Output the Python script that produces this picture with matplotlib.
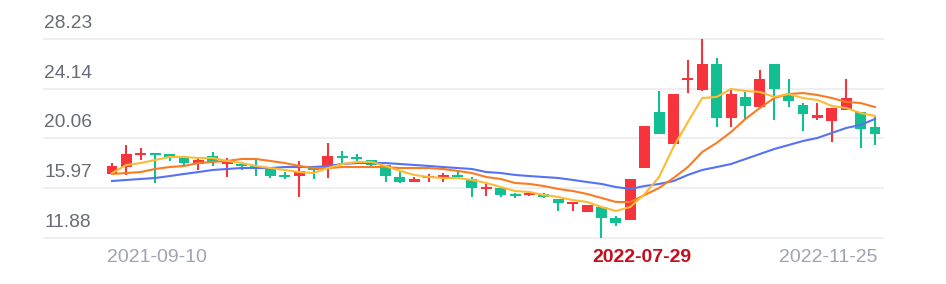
import matplotlib
matplotlib.use('Agg')
import matplotlib.pyplot as plt
import numpy as np

# ---- data (weekly candles) ----
opens = [17.14, 17.71, 18.66, 18.72, 18.78, 18.45, 17.96, 18.62, 18.00, 17.96,
         17.76, 17.55, 17.02, 16.97, 17.63, 17.71, 18.58, 18.41, 18.25, 17.88,
         16.89, 16.48, 16.77, 16.93, 16.97, 16.73, 15.91, 15.99, 15.37, 15.45,
         15.50, 15.08, 14.71, 14.02, 14.43, 13.52, 13.36, 17.63, 22.23, 19.60,
         24.90, 24.04, 26.18, 21.74, 23.47, 22.64, 26.18, 23.63, 22.81, 21.74,
         21.49, 22.40, 22.23, 21.00]
highs = [18.04, 19.52, 19.28, 18.80, 18.80, 18.62, 18.45, 18.95, 18.45, 18.13,
         18.45, 17.58, 17.30, 18.21, 17.66, 19.69, 19.03, 18.78, 18.27, 17.90,
         17.39, 16.89, 17.14, 17.22, 17.30, 16.89, 16.32, 16.01, 15.58, 15.66,
         15.58, 15.10, 14.84, 14.61, 14.45, 13.69, 16.75, 21.10, 23.96, 23.73,
         26.51, 28.23, 26.67, 24.04, 23.88, 25.68, 26.20, 24.95, 22.97, 22.97,
         22.58, 24.95, 22.25, 21.82]
lows = [17.10, 17.06, 18.29, 16.40, 18.21, 17.88, 17.47, 17.80, 16.89, 17.47,
        16.97, 16.81, 16.73, 15.25, 16.73, 16.81, 18.04, 18.13, 17.71, 16.48,
        16.40, 16.46, 16.48, 16.48, 16.73, 15.25, 15.33, 15.25, 15.17, 15.33,
        15.17, 14.10, 14.10, 14.00, 11.88, 12.87, 13.34, 17.60, 20.41, 19.58,
        23.79, 23.96, 21.00, 21.00, 21.58, 22.62, 21.58, 22.64, 20.67, 21.58,
        19.77, 22.38, 19.28, 19.52]
closes = [17.80, 18.78, 18.70, 18.66, 18.45, 18.04, 18.29, 18.13, 18.04, 17.80,
          17.67, 16.97, 16.93, 17.39, 17.47, 18.62, 18.49, 18.33, 17.88, 16.97,
          16.48, 16.73, 16.81, 16.97, 16.93, 15.99, 16.07, 15.41, 15.29, 15.50,
          15.25, 14.76, 14.76, 14.59, 13.52, 13.11, 16.73, 21.08, 20.43, 23.71,
          24.95, 26.18, 21.74, 23.71, 22.73, 24.95, 24.12, 23.14, 22.07, 21.99,
          22.56, 23.38, 20.84, 20.43]
ma_short = [17.22, 17.88, 18.04, 18.29, 18.54, 18.54, 18.45, 18.45, 18.21, 18.04,
            17.80, 17.63, 17.47, 17.30, 17.22, 17.63, 17.96, 18.13, 18.13, 17.80,
            17.39, 17.06, 16.89, 16.81, 16.81, 16.65, 16.40, 16.07, 15.74, 15.66,
            15.41, 15.25, 15.00, 14.84, 14.43, 14.10, 14.43, 15.50, 16.89, 19.36,
            21.41, 23.38, 23.47, 24.12, 23.96, 23.88, 23.47, 23.71, 23.38, 23.22,
            22.73, 22.56, 22.15, 21.91]
ma_mid = [17.14, 17.22, 17.30, 17.55, 17.71, 17.80, 18.04, 18.13, 18.21, 18.37,
          18.37, 18.21, 18.04, 17.80, 17.63, 17.63, 17.71, 17.71, 17.71, 17.71,
          17.63, 17.63, 17.63, 17.55, 17.39, 17.22, 16.89, 16.73, 16.40, 16.32,
          16.15, 15.91, 15.74, 15.50, 15.17, 14.84, 14.84, 15.41, 15.99, 16.81,
          17.71, 18.95, 19.69, 20.59, 21.66, 22.56, 23.38, 23.71, 23.79, 23.63,
          23.38, 23.06, 22.97, 22.64]
ma_long = [16.56, 16.65, 16.73, 16.81, 16.97, 17.14, 17.30, 17.47, 17.55, 17.63,
           17.63, 17.63, 17.71, 17.71, 17.71, 17.80, 17.96, 18.04, 18.04, 18.04,
           17.96, 17.88, 17.80, 17.71, 17.63, 17.55, 17.30, 17.22, 17.06, 16.97,
           16.89, 16.81, 16.65, 16.48, 16.32, 16.07, 15.91, 16.15, 16.32, 16.56,
           17.06, 17.47, 17.71, 17.96, 18.37, 18.78, 19.19, 19.52, 19.85, 20.10,
           20.51, 20.92, 21.17, 21.66]
y_ticks = [11.88, 15.97, 20.06, 24.14, 28.23]
x_tick_pos = [0, 37, 53]
x_tick_labels = ['2021-09-10', '2022-07-29', '2022-11-25']

UP = '#f7343c'
DOWN = '#12bf92'

W, H = 946, 284
fig = plt.figure(figsize=(W / 100, H / 100), dpi=100)
left_px, right_px, top_px, bot_px = 44, 883, 39, 238
ax = fig.add_axes([left_px / W, (H - bot_px) / H, (right_px - left_px) / W, (bot_px - top_px) / H])

n = len(opens)
step = (875 - 112) / (n - 1)
ax.set_xlim((left_px - 112) / step, (right_px - 112) / step)
ax.set_ylim(y_ticks[0], y_ticks[-1])
ax.axis('off')

for v in y_ticks:
    ax.axhline(v, color='#eeeeee', lw=1.3, zorder=0, clip_on=False)
    ax.annotate(f'{v:.2f}', xy=(0, v), xycoords=('axes fraction', 'data'),
                xytext=(0, 11), textcoords='offset pixels', ha='left', va='baseline',
                fontsize=13.8, color='#686b76', family='Liberation Sans')

x = np.arange(n)
o = np.array(opens); c = np.array(closes); hi = np.array(highs); lo = np.array(lows)
up = c >= o
cols = np.where(up, UP, DOWN)
min_h = 2.0 / ((bot_px - top_px) / (y_ticks[-1] - y_ticks[0]))
body_lo = np.minimum(o, c)
body_h = np.maximum(np.abs(c - o), min_h)
ax.vlines(x, lo, hi, colors=cols, lw=1.5, zorder=2)
ax.bar(x, body_h, bottom=body_lo, width=0.76, color=cols, zorder=3, linewidth=0)

ax.plot(x, ma_long, color='#5672f3', lw=1.5, zorder=4)
ax.plot(x, ma_mid, color='#f97c24', lw=1.5, zorder=5)
ax.plot(x, ma_short, color='#fdbb33', lw=1.5, zorder=6)

# x labels
fam = ['Liberation Sans Narrow', 'Liberation Sans', 'DejaVu Sans']
ax.annotate(x_tick_labels[0], xy=(x_tick_pos[0] - 0.38, y_ticks[0]), xycoords='data',
            xytext=(0, -20), textcoords='offset pixels', ha='left', va='center',
            fontsize=14, color='#a0a3b0', family=fam, annotation_clip=False)
ax.annotate(x_tick_labels[1], xy=(x_tick_pos[1], y_ticks[0]), xycoords='data',
            xytext=(-3, -20), textcoords='offset pixels', ha='center', va='center',
            fontsize=14, color='#c0101c', family=fam, fontweight='bold', annotation_clip=False)
ax.annotate(x_tick_labels[2], xy=(x_tick_pos[2] + 0.2, y_ticks[0]), xycoords='data',
            xytext=(0, -20), textcoords='offset pixels', ha='right', va='center',
            fontsize=14, color='#a0a3b0', family=fam, annotation_clip=False)

fig.savefig('out.png', dpi=100)
